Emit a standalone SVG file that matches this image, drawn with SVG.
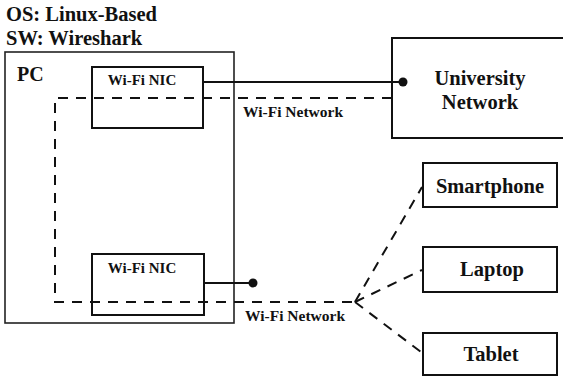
<svg xmlns="http://www.w3.org/2000/svg" width="563" height="376" viewBox="0 0 563 376">
  <style>
    text { font-weight: bold; fill: #111; }
    .box { fill: #fff; stroke: #111; stroke-width: 2; }
    .frame { fill: none; stroke: #111; stroke-width: 2; }
    .pc { fill: none; stroke: #222; stroke-width: 1.6; }
    .solid { fill: none; stroke: #111; stroke-width: 2; }
    .dash { fill: none; stroke: #111; stroke-width: 2; stroke-dasharray: 10 8; }
    .hdr { font-size: 20.5px; }
    .lbl { font-size: 20px; }
    .nic { font-size: 15px; }
    .net { font-size: 15.5px; }
    .dev { font-size: 20.5px; }
  </style>
  <rect width="563" height="376" fill="#fff"/>

  <g font-family="'Liberation Serif', 'Times New Roman', Times, serif">
    <!-- header labels -->
    <text class="hdr" x="6" y="21">OS: Linux-Based</text>
    <text class="hdr" x="6" y="45">SW: Wireshark</text>

    <g id="pc">
      <rect class="pc" x="5" y="52" width="229" height="271"/>
      <text class="lbl" x="17" y="81">PC</text>
    </g>

    <g id="nic-top">
      <rect class="frame" x="92" y="67" width="111" height="61"/>
      <text class="nic" x="142" y="85" text-anchor="middle">Wi-Fi NIC</text>
    </g>

    <g id="nic-bottom">
      <rect class="frame" x="92" y="254" width="112" height="61"/>
      <text class="nic" x="142" y="273" text-anchor="middle">Wi-Fi NIC</text>
    </g>

    <g id="university">
      <rect class="box" x="392" y="38" width="175" height="100"/>
      <text class="dev" x="480" y="85" text-anchor="middle">University</text>
      <text class="dev" x="480" y="109" text-anchor="middle">Network</text>
    </g>

    <g id="smartphone">
      <rect class="box" x="423" y="163" width="134" height="44"/>
      <text class="dev" x="490" y="193" text-anchor="middle">Smartphone</text>
    </g>

    <g id="laptop">
      <rect class="box" x="423" y="247" width="134" height="45"/>
      <text class="dev" x="492" y="276" text-anchor="middle">Laptop</text>
    </g>

    <g id="tablet">
      <rect class="box" x="423" y="333" width="134" height="42"/>
      <text class="dev" x="491" y="361" text-anchor="middle">Tablet</text>
    </g>

    <g id="connectors">
      <!-- wired links from the NICs -->
      <path class="solid" d="M203,82 H402"/>
      <circle cx="403" cy="82" r="4.5" fill="#111"/>
      <path class="solid" d="M204,283 H252"/>
      <circle cx="253" cy="283" r="4.5" fill="#111"/>
      <!-- Wi-Fi networks -->
      <path class="dash" d="M392,98 H55 V302 H355"/>
      <path class="dash" d="M355,302 L422,187"/>
      <path class="dash" d="M355,302 L422,270"/>
      <path class="dash" d="M355,302 L421,352"/>
      <text class="net" x="243" y="117">Wi-Fi Network</text>
      <text class="net" x="245" y="321">Wi-Fi Network</text>
    </g>
  </g>
</svg>
